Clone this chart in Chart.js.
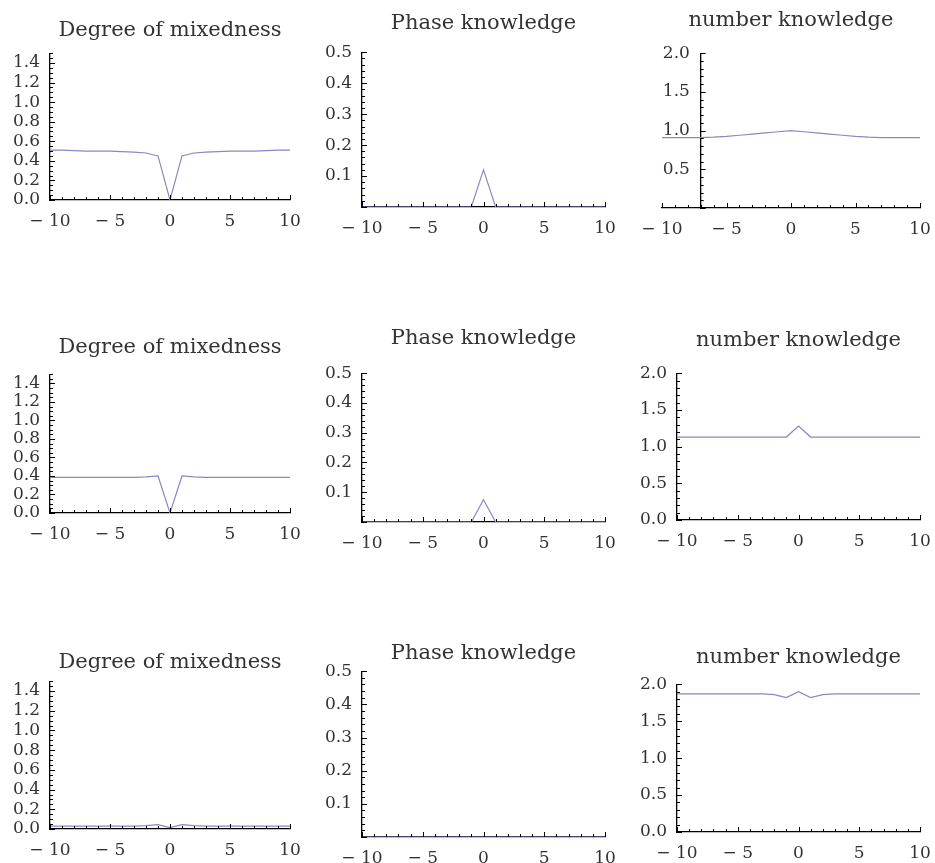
<!DOCTYPE html>
<html>
<head>
<meta charset="utf-8">
<script src="https://cdn.jsdelivr.net/npm/chart.js@4/dist/chart.umd.min.js"></script>
<style>
  body { margin: 0; background: #fff; width: 935px; height: 863px; position: relative; overflow: hidden; }
  canvas { position: absolute; }
</style>
</head>
<body>
<script>
/* ---------- data ---------- */
const xValues = [-10, -9, -8, -7, -6, -5, -4, -3, -2, -1, 0, 1, 2, 3, 4, 5, 6, 7, 8, 9, 10];

const mixedness1 = [0.51, 0.51, 0.505, 0.50, 0.50, 0.50, 0.495, 0.49, 0.48, 0.45, 0.0, 0.45, 0.48, 0.49, 0.495, 0.50, 0.50, 0.50, 0.505, 0.51, 0.51];
const phase1 = [0, 0, 0, 0, 0, 0, 0, 0, 0, 0, 0.12, 0, 0, 0, 0, 0, 0, 0, 0, 0, 0];
const number1 = [0.91, 0.91, 0.91, 0.91, 0.915, 0.925, 0.94, 0.955, 0.97, 0.985, 1.0, 0.985, 0.97, 0.955, 0.94, 0.925, 0.915, 0.91, 0.91, 0.91, 0.91];

const mixedness2 = [0.385, 0.385, 0.385, 0.385, 0.385, 0.385, 0.385, 0.385, 0.39, 0.40, 0.0, 0.40, 0.39, 0.385, 0.385, 0.385, 0.385, 0.385, 0.385, 0.385, 0.385];
const phase2 = [0, 0, 0, 0, 0, 0, 0, 0, 0, 0, 0.075, 0, 0, 0, 0, 0, 0, 0, 0, 0, 0];
const number2 = [1.13, 1.13, 1.13, 1.13, 1.13, 1.13, 1.13, 1.13, 1.13, 1.13, 1.28, 1.13, 1.13, 1.13, 1.13, 1.13, 1.13, 1.13, 1.13, 1.13, 1.13];

const mixedness3 = [0.03, 0.03, 0.03, 0.03, 0.03, 0.03, 0.03, 0.03, 0.035, 0.045, 0.015, 0.045, 0.035, 0.03, 0.03, 0.03, 0.03, 0.03, 0.03, 0.03, 0.03];
const phase3 = [0, 0, 0, 0, 0, 0, 0, 0, 0, 0, 0, 0, 0, 0, 0, 0, 0, 0, 0, 0, 0];
const number3 = [1.87, 1.87, 1.87, 1.87, 1.87, 1.87, 1.87, 1.87, 1.86, 1.82, 1.90, 1.82, 1.86, 1.87, 1.87, 1.87, 1.87, 1.87, 1.87, 1.87, 1.87];

const xTicks = [-10, -5, 0, 5, 10];
const mixTicks = [0.0, 0.2, 0.4, 0.6, 0.8, 1.0, 1.2, 1.4];
const phaseTicks = [0.1, 0.2, 0.3, 0.4, 0.5];
const numberTicks = [0.0, 0.5, 1.0, 1.5, 2.0];
const numberTicksNoZero = [0.5, 1.0, 1.5, 2.0];

const mixTitle = 'Degree of mixedness';
const phaseTitle = 'Phase knowledge';
const numberTitle = 'number knowledge';

/* ---------- panel layout ---------- */
const mixAxis = { yMax: 1.5, major: 0.2, minor: 0.05 };
const phaseAxis = { yMax: 0.5, major: 0.1, minor: 0.02 };
const numberAxis = { yMax: 2.0, major: 0.5, minor: 0.1 };

const panels = [
  { title: mixTitle, series: mixedness1, yTicks: mixTicks, axis: mixAxis, cross: -10, area: [50, 52, 290, 200], titleY: 30 },
  { title: phaseTitle, series: phase1, yTicks: phaseTicks, axis: phaseAxis, cross: -10, area: [362, 51, 605, 207], titleY: 23 },
  { title: numberTitle, series: number1, yTicks: numberTicksNoZero, axis: numberAxis, cross: -7, area: [662, 52, 920, 208], titleY: 20 },
  { title: mixTitle, series: mixedness2, yTicks: mixTicks, axis: mixAxis, cross: -10, area: [50, 373, 290, 513], titleY: 347 },
  { title: phaseTitle, series: phase2, yTicks: phaseTicks, axis: phaseAxis, cross: -10, area: [362, 372, 605, 522], titleY: 338 },
  { title: numberTitle, series: number2, yTicks: numberTicks, axis: numberAxis, cross: -10, area: [677, 372, 920, 520], titleY: 340 },
  { title: mixTitle, series: mixedness3, yTicks: mixTicks, axis: mixAxis, cross: -10, area: [50, 680, 290, 829], titleY: 662 },
  { title: phaseTitle, series: phase3, yTicks: phaseTicks, axis: phaseAxis, cross: -10, area: [362, 670, 605, 837], titleY: 653 },
  { title: numberTitle, series: number3, yTicks: numberTicks, axis: numberAxis, cross: -10, area: [677, 683, 920, 832], titleY: 657 }
];

const FONT = "'DejaVu Serif', 'Liberation Serif', serif";
const TEXT = '#333';
const LINE = '#8888c4';
const Y_W = 55, X_H = 35, RIGHT = 20;

/* ---------- inward Mathematica-style tick marks ---------- */
const inwardTicks = {
  id: 'inwardTicks',
  afterDraw(chart, args, opts) {
    const xs = chart.scales.x, ys = chart.scales.y, ctx = chart.ctx;
    const y0 = ys.getPixelForValue(0);
    const x0 = xs.getPixelForValue(opts.cross);
    ctx.save();
    ctx.strokeStyle = '#000';
    ctx.lineWidth = 1;
    ctx.beginPath();
    for (let v = -10; v <= 10; v++) {
      const px = Math.round(xs.getPixelForValue(v)) + 0.5;
      const len = v % 5 === 0 ? 5 : 3;
      ctx.moveTo(px, y0);
      ctx.lineTo(px, y0 - len);
    }
    const n = Math.round(opts.yMax / opts.minor);
    const every = Math.round(opts.major / opts.minor);
    for (let i = 0; i <= n; i++) {
      const py = Math.round(ys.getPixelForValue(i * opts.minor)) + 0.5;
      const len = i % every === 0 ? 5 : 3;
      ctx.moveTo(x0, py);
      ctx.lineTo(x0 + len, py);
    }
    ctx.stroke();
    ctx.restore();
  }
};

const fmtX = v => v < 0 ? '\u2212 ' + Math.abs(v) : String(v);

panels.forEach(p => {
  const [L, T, R, B] = p.area;
  const crossing = p.cross !== -10;
  const canvas = document.createElement('canvas');
  const top = p.titleY - 16;
  const w = Y_W + (R - L) + RIGHT;
  const h = (B - top) + X_H;
  canvas.width = w;
  canvas.height = h;
  canvas.style.left = (L - Y_W) + 'px';
  canvas.style.top = top + 'px';
  document.body.appendChild(canvas);

  new Chart(canvas, {
    type: 'line',
    data: {
      datasets: [{
        data: xValues.map((x, i) => ({ x: x, y: p.series[i] })),
        borderColor: LINE,
        borderWidth: 1.2,
        pointRadius: 0,
        tension: 0,
        fill: false
      }]
    },
    options: {
      responsive: false,
      animation: false,
      devicePixelRatio: 1,
      layout: { padding: { left: crossing ? Y_W : 0, right: RIGHT, top: 0, bottom: 0 } },
      plugins: {
        legend: { display: false },
        tooltip: { enabled: false },
        title: {
          display: true,
          text: p.title,
          fullSize: false,
          color: TEXT,
          font: { family: FONT, size: 21, weight: 'normal', lineHeight: 1.2 },
          padding: { top: 4, bottom: T - p.titleY - 12 }
        },
        inwardTicks: { cross: p.cross, yMax: p.axis.yMax, major: p.axis.major, minor: p.axis.minor }
      },
      scales: {
        x: {
          type: 'linear',
          min: -10,
          max: 10,
          afterBuildTicks: s => { s.ticks = xTicks.map(v => ({ value: v })); },
          afterFit: s => { s.height = X_H; },
          grid: { display: false },
          border: { display: true, color: '#000', width: 1.3 },
          ticks: { color: TEXT, padding: 3, maxRotation: 0, autoSkip: false, font: { family: FONT, size: 17 }, callback: fmtX }
        },
        y: {
          type: 'linear',
          min: 0,
          max: p.axis.yMax,
          position: crossing ? { x: p.cross } : 'left',
          afterBuildTicks: s => { s.ticks = p.yTicks.map(v => ({ value: v })); },
          afterFit: s => { if (!crossing) s.width = Y_W; },
          grid: { display: false },
          border: { display: true, color: '#000', width: 1.3 },
          ticks: {
            color: TEXT,
            padding: 2,
            autoSkip: false,
            font: { family: FONT, size: 17 },
            callback: v => crossing ? v.toFixed(1) + '  ' : v.toFixed(1)
          }
        }
      }
    },
    plugins: [inwardTicks]
  });
});
</script>
</body>
</html>
